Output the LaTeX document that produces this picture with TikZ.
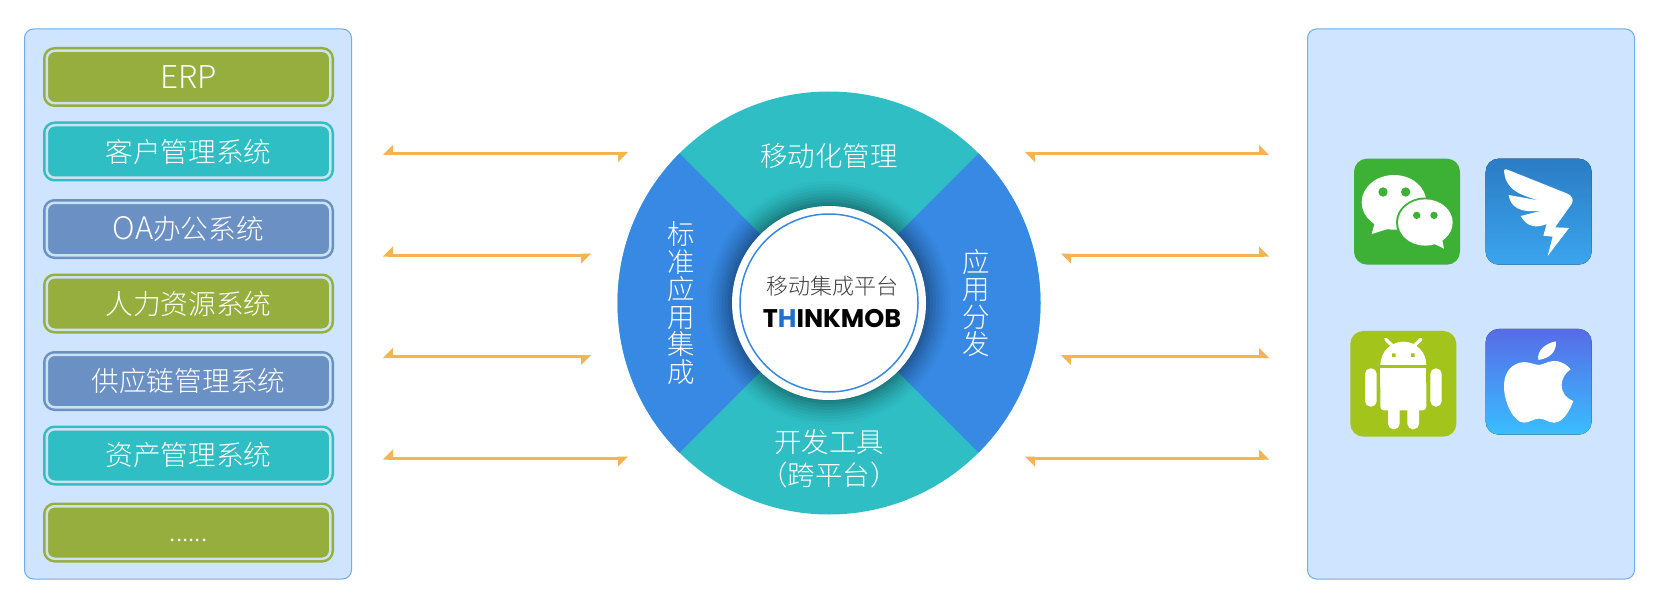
\documentclass[tikz,border=0pt]{standalone}
\usepackage{fontspec}
\setmainfont{Noto Sans CJK SC}[UprightFont=* Light,BoldFont=*]
\newfontfamily\logofont{Poppins}
\usetikzlibrary{arrows.meta}
\definecolor{panelfill}{HTML}{CEE4FF}
\definecolor{paneldraw}{HTML}{6EAEEF}
\definecolor{olive}{HTML}{95AE3D}
\definecolor{tealc}{HTML}{2EBEC4}
\definecolor{bluec}{HTML}{6A90C4}
\definecolor{ringc}{HTML}{CBE3F0}
\definecolor{secblue}{HTML}{3789E3}
\definecolor{arrowc}{HTML}{F5B44F}
\definecolor{logoblue}{HTML}{1E6FD0}
\definecolor{wxgreen}{HTML}{3DB135}
\definecolor{andgreen}{HTML}{A3C41A}
\definecolor{dingtop}{HTML}{2B7CC4}
\definecolor{dingbot}{HTML}{3AA5EE}
\definecolor{appletop}{HTML}{566CE6}
\definecolor{applebot}{HTML}{39BEFF}
\pgfdeclarearrow{
  name=BarbL,
  setup code={\pgfarrowssettipend{0pt}\pgfarrowssetbackend{-10pt}\pgfarrowssetlineend{-5pt}\pgfarrowssetvisualbackend{-5pt}},
  drawing code={\pgfsetfillcolor{arrowc}\pgfpathmoveto{\pgfqpoint{0pt}{-1.5pt}}\pgfpathlineto{\pgfqpoint{-10pt}{-1.5pt}}\pgfpathlineto{\pgfqpoint{-10pt}{8.7pt}}\pgfpathclose\pgfusepathqfill},
}
\pgfdeclarearrow{
  name=BarbR,
  setup code={\pgfarrowssettipend{0pt}\pgfarrowssetbackend{-10pt}\pgfarrowssetlineend{-5pt}\pgfarrowssetvisualbackend{-5pt}},
  drawing code={\pgfsetfillcolor{arrowc}\pgfpathmoveto{\pgfqpoint{0pt}{1.5pt}}\pgfpathlineto{\pgfqpoint{-10pt}{1.5pt}}\pgfpathlineto{\pgfqpoint{-10pt}{-8.7pt}}\pgfpathclose\pgfusepathqfill},
}
\tikzset{
  panel/.style={draw=paneldraw,fill=panelfill,line width=1pt,rounded corners=9pt},
  sysbox/.style={fill=#1,draw=ringc,line width=2.5pt,rounded corners=8pt,outer sep=0pt,inner sep=0pt,
     minimum width=283.5pt,minimum height=52.5pt,text=white,font=\fontsize{27.7}{30}\selectfont,
     preaction={draw=#1,line width=7.5pt}},
  sectext/.style={text=white,align=center,inner sep=0pt,font=\fontsize{27.5}{33}\selectfont},
  vtext/.style={text=white,align=center,inner sep=0pt,font=\fontsize{27.5}{27.5}\selectfont},
  link/.style={draw=arrowc,line width=3pt},
  linkL/.style={link,BarbR-BarbR},
  linkR/.style={link,BarbL-BarbL},
  iconrect/.style={rounded corners=13pt},
}
\begin{document}
\begin{tikzpicture}[x=1pt,y=-1pt]
\useasboundingbox (0,0) rectangle (1669,604);
\fill[white] (0,0) rectangle (1669,604);
% panels
\draw[panel] (24.5,29) rectangle (351.5,579);
\draw[panel] (1307.5,29) rectangle (1634.5,579);
% system boxes
\node[sysbox=olive] (b1) at (188.5,77) {\raisebox{-1pt}{\fontsize{31.5}{31}\selectfont ERP}};
\node[sysbox=tealc] (b2) at (188.5,151.5) {\raisebox{-2pt}{客户管理系统}};
\node[sysbox=bluec] (b3) at (188.5,229) {{\fontsize{31}{30}\selectfont OA}办公系统};
\node[sysbox=olive] (b4) at (188.5,303.5) {\raisebox{-2pt}{人力资源系统}};
\node[sysbox=bluec] (b5) at (188.5,381) {\raisebox{-1pt}{供应链管理系统}};
\node[sysbox=tealc] (b6) at (188.5,455.5) {\raisebox{-2pt}{资产管理系统}};
\node[sysbox=olive] (b7) at (188.5,532.5) {\fontsize{25}{25}\selectfont\vphantom{E}......};
% wheel
\fill[tealc] (829,303) circle (211.5);
\fill[secblue] (829,303) -- (-149.55+829-0,0+303-149.55) arc[start angle=-135,end angle=-225,radius=211.5] -- cycle;
\fill[secblue] (829,303) -- (149.55+829,303-149.55) arc[start angle=-45,end angle=45,radius=211.5] -- cycle;
\foreach \r/\o in {122/.02,119/.025,116/.03,113/.04,110/.045,107/.05,104/.06,101/.07,98/.08}{
  \fill[black,opacity=\o] (829,303) circle (\r);
}
\fill[white] (829,303) circle (97);
\draw[secblue,line width=1.5pt] (829,303) circle (89);
\node[sectext] (s1) at (829,156) {移动化管理};
\node[sectext] (s2) at (829,459) {开发工具\\（跨平台）};
\node[vtext] (s3) at (681.5,303) {标\\准\\应\\用\\集\\成};
\node[vtext] (s4) at (976,303) {应\\用\\分\\发};
\node[inner sep=0pt,text=black!75,font=\fontsize{22}{24}\selectfont] (c1) at (832.5,286) {移动集成平台};
\node[inner sep=0pt,font=\logofont\bfseries\fontsize{25.5}{26}\selectfont] (c2) at (832,319) {T\textcolor{logoblue}{H}INKMOB};
% arrows
\coordinate (la1) at (383,153.5); \coordinate (lb1) at (628,153.5);
\coordinate (la2) at (383,255); \coordinate (lb2) at (591,255);
\coordinate (la3) at (383,356.5); \coordinate (lb3) at (591,356.5);
\coordinate (la4) at (383,458); \coordinate (lb4) at (628,458);
\coordinate (ra1) at (1025,153.5); \coordinate (rb1) at (1269,153.5);
\coordinate (ra2) at (1061,255); \coordinate (rb2) at (1269,255);
\coordinate (ra3) at (1061,356.5); \coordinate (rb3) at (1269,356.5);
\coordinate (ra4) at (1025,458); \coordinate (rb4) at (1269,458);
\foreach \i in {1,2,3,4}{
  \draw[linkL] (la\i) -- (lb\i);
  \draw[linkR] (rb\i) -- (ra\i);
}
% icons in zoom coordinates
\begin{scope}[shift={(1320,140)},x=0.3333pt,y=-0.3333pt]
 % WeChat
 \fill[wxgreen,iconrect] (102,56) rectangle (420,374);
 \fill[white] (222,187) ellipse[x radius=97,y radius=82];
 \fill[white] (165,245) -- (155,282) -- (210,265) -- cycle;
 \fill[wxgreen] (316,247.5) ellipse[x radius=88,y radius=75];
 \fill[white] (316,247.5) ellipse[x radius=82,y radius=69.5];
 \fill[white] (335,308) -- (372,326) -- (365,290) -- cycle;
 \fill[wxgreen] (189,156) circle (14) (257,156) circle (14) (290,226) circle (11) (342,226) circle (11);
 % DingTalk
 \fill[top color=dingtop,bottom color=dingbot,iconrect] (497,56) rectangle (815,374);
 \fill[white] (552,90) .. controls (555,86) and (560,88) .. (565,90) -- (740,160) .. controls (757,167) and (762,178) .. (755,192) -- (705,262) -- (747,264) -- (683,348) -- (698,290) -- (670,287) -- (680,252) .. controls (650,265) and (620,262) .. (602,228) -- (665,212) .. controls (630,215) and (575,220) .. (566,165) -- (660,182) .. controls (600,165) and (555,150) .. (552,90) -- cycle;
 % Android
 \fill[andgreen,iconrect] (91,573) rectangle (409,890);
 \fill[white] (181,675) arc[start angle=180,end angle=360,x radius=69,y radius=70] -- cycle;
 \draw[white,line width=3.3pt,line cap=round] (197,598) -- (216,616) (303,598) -- (284,616);
 \fill[andgreen] (216,640) rectangle (227,651) (273,640) rectangle (284,651);
 \fill[white,rounded corners=3.5pt] (181,720) -- (181,811) -- (319,811) -- (319,720) -- cycle;
 \fill[white] (181,685) rectangle (319,740);
 \fill[white,rounded corners=5.5pt] (135,685) rectangle (170,800) (331,685) rectangle (365,800) (204,780) rectangle (239,868) (262,780) rectangle (297,868);
 % Apple
 \fill[top color=appletop,bottom color=applebot,iconrect] (497,567) rectangle (815,884);
 \fill[white] (655,660) .. controls (650,630) and (678,610) .. (708,604) .. controls (710,635) and (690,655) .. (655,660) -- cycle;
 \fill[white] (655,675) .. controls (635,672) and (620,662) .. (600,668) .. controls (565,678) and (552,705) .. (552,740) .. controls (552,785) and (580,848) .. (612,848) .. controls (630,848) and (640,836) .. (658,836) .. controls (675,836) and (685,848) .. (702,848) .. controls (730,848) and (750,810) .. (760,783) .. controls (738,775) and (725,758) .. (725,735) .. controls (725,715) and (737,698) .. (752,688) .. controls (735,668) and (715,662) .. (700,663) .. controls (680,665) and (668,675) .. (655,675) -- cycle;
\end{scope}
\end{tikzpicture}
\end{document}
